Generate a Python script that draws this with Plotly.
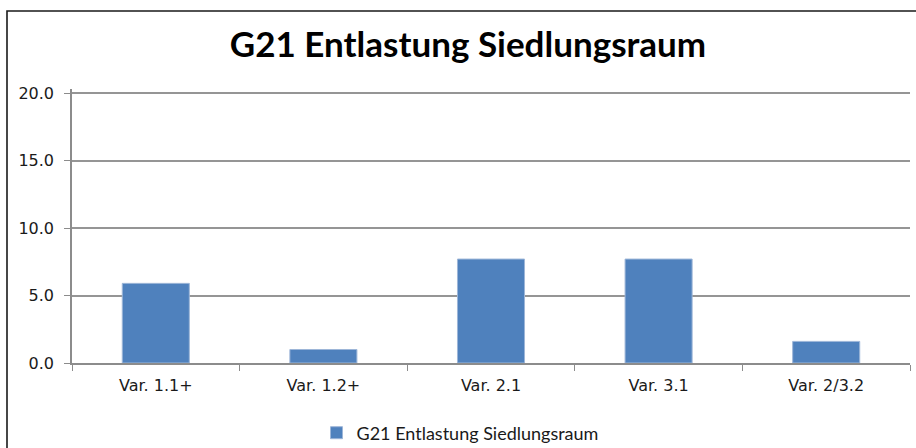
import plotly.graph_objects as go

categories = ["Var. 1.1+", "Var. 1.2+", "Var. 2.1", "Var. 3.1", "Var. 2/3.2"]
values = [5.9, 1.0, 7.7, 7.7, 1.6]
series_name = "G21 Entlastung Siedlungsraum"
chart_title = "G21 Entlastung Siedlungsraum"
y_ticks = [0, 5, 10, 15, 20]
y_tick_labels = ["0.0", "5.0", "10.0", "15.0", "20.0"]

W, H = 916, 448
ML, MR, MT, MB = 72, 6, 89, 85
PW, PH = W - ML - MR, H - MT - MB

fig = go.Figure(
    go.Bar(
        x=categories,
        y=values,
        name=series_name,
        marker=dict(color="#4F81BD", line=dict(color="#9DB6D8", width=1)),
        showlegend=True,
    )
)

# outer chart frame (left and top edges visible, right/bottom run off the page)
fig.add_shape(
    type="rect", xref="paper", yref="paper",
    x0=(7 - ML) / PW, x1=(W + 4 - ML) / PW,
    y0=(H - MB - (H + 4)) / PH, y1=(H - MB - 11) / PH,
    line=dict(color="#1a1a1a", width=1.6), fillcolor="rgba(0,0,0,0)", layer="below",
)

tick_font = dict(family="DejaVu Sans", size=16, color="#1a1a1a")

fig.update_layout(
    width=W, height=H,
    margin=dict(l=ML, r=MR, t=MT, b=MB),
    paper_bgcolor="white", plot_bgcolor="white",
    bargap=0.6,
    title=dict(
        text=chart_title, x=468 / W, xanchor="center", xref="container",
        y=1 - 45 / H, yanchor="middle", yref="container",
        font=dict(family="Lato", size=35, color="#000000", weight="bold"),
    ),
    legend=dict(
        orientation="h", x=460 / W, xanchor="center", xref="container",
        y=1 - 433 / H, yanchor="middle", yref="container",
        font=dict(family="Lato", size=18, color="#1a1a1a"),
        itemwidth=30,
    ),
    xaxis=dict(
        type="category", tickson="boundaries", ticks="outside", ticklen=6,
        tickcolor="#8c8c8c", showline=True, linecolor="#8c8c8c", linewidth=1.5,
        showgrid=False, tickfont=tick_font, ticklabelstandoff=7,
        range=[-0.5, 4.5],
    ),
    yaxis=dict(
        range=[0, 20.3], tickvals=y_ticks, ticktext=y_tick_labels,
        ticks="outside", ticklen=6, tickcolor="#8c8c8c",
        showline=True, linecolor="#8c8c8c", linewidth=1.5,
        showgrid=True, gridcolor="#959595", gridwidth=1.5,
        zeroline=False, ticklabelstandoff=7,
        tickfont=tick_font,
    ),
)

fig.write_html("out.html")
